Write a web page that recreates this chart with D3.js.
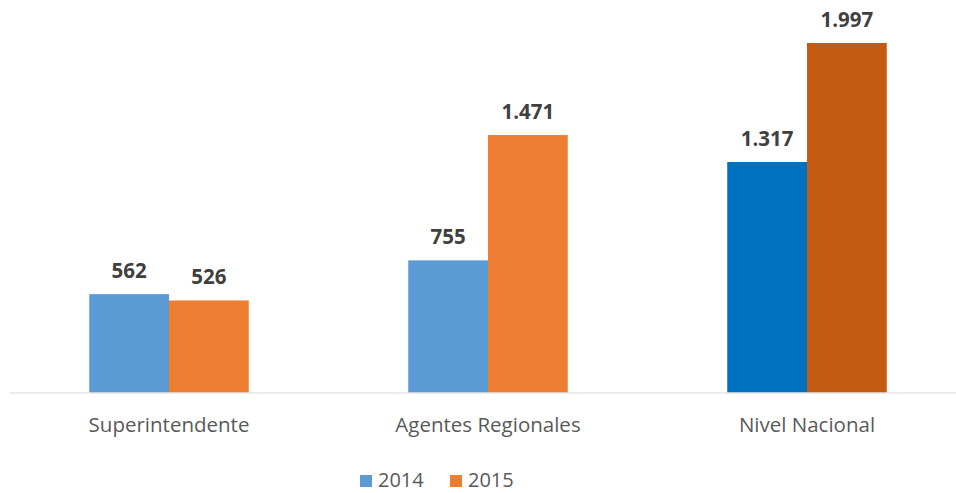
<!DOCTYPE html>
<html><head><meta charset="utf-8">
<script src="https://cdn.jsdelivr.net/npm/d3@7"></script>
<style>body{margin:0;background:#fff;} svg{display:block;}</style>
</head><body>
<svg id="c" width="956" height="493"></svg>
<script>
const categories = ["Superintendente", "Agentes Regionales", "Nivel Nacional"];
const seriesNames = ["2014", "2015"];
const values2014 = [562, 755, 1317];
const values2015 = [526, 1471, 1997];
const labels2014 = ["562", "755", "1.317"];
const labels2015 = ["526", "1.471", "1.997"];
const colors2014 = ["#5B9BD5", "#5B9BD5", "#0070C0"];
const colors2015 = ["#ED7D31", "#ED7D31", "#C55A11"];
const legendColors = ["#5B9BD5", "#ED7D31"];

const svg = d3.select("#c");
const baseY = 392.5;
const font = "'Open Sans', 'Liberation Sans', sans-serif";

const x0 = d3.scaleBand().domain(categories).range([9.5, 966.5]).paddingInner(0.5).paddingOuter(0.25);
const x1 = d3.scaleBand().domain(seriesNames).range([0, x0.bandwidth()]);
const y = d3.scaleLinear().domain([0, 1997]).range([baseY, 43]);

const data = [];
categories.forEach((c, i) => {
  data.push({cat: c, s: "2014", v: values2014[i], l: labels2014[i], col: colors2014[i]});
  data.push({cat: c, s: "2015", v: values2015[i], l: labels2015[i], col: colors2015[i]});
});

svg.selectAll("rect.bar").data(data).enter().append("rect")
  .attr("class", "bar")
  .attr("x", d => x0(d.cat) + x1(d.s))
  .attr("width", x1.bandwidth())
  .attr("y", d => y(d.v))
  .attr("height", d => baseY - y(d.v))
  .attr("fill", d => d.col);

svg.append("line").attr("x1", 10).attr("x2", 956).attr("y1", baseY + 0.5).attr("y2", baseY + 0.5)
  .attr("stroke", "#D9D9D9").attr("stroke-width", 1.2);

svg.selectAll("text.val").data(data).enter().append("text")
  .attr("class", "val")
  .attr("x", d => x0(d.cat) + x1(d.s) + x1.bandwidth() / 2)
  .attr("y", d => y(d.v) - 16)
  .attr("text-anchor", "middle")
  .attr("font-family", font).attr("font-weight", "bold").attr("font-size", 20.5)
  .attr("fill", "#404040")
  .text(d => d.l);

svg.selectAll("text.cat").data(categories).enter().append("text")
  .attr("class", "cat")
  .attr("x", d => x0(d) + x0.bandwidth() / 2)
  .attr("y", 432)
  .attr("text-anchor", "middle")
  .attr("font-family", font).attr("font-size", 20.5)
  .attr("fill", "#595959")
  .text(d => d);

const legendX = [360, 450];
const lg = svg.selectAll("g.lg").data(seriesNames).enter().append("g")
  .attr("class", "lg")
  .attr("transform", (d, i) => `translate(${legendX[i]},0)`);
lg.append("rect").attr("x", 0).attr("y", 475).attr("width", 12).attr("height", 12)
  .attr("fill", (d, i) => legendColors[i]);
lg.append("text").attr("x", 18).attr("y", 487)
  .attr("font-family", font).attr("font-size", 20).attr("fill", "#595959")
  .text(d => d);
</script>
</body></html>
